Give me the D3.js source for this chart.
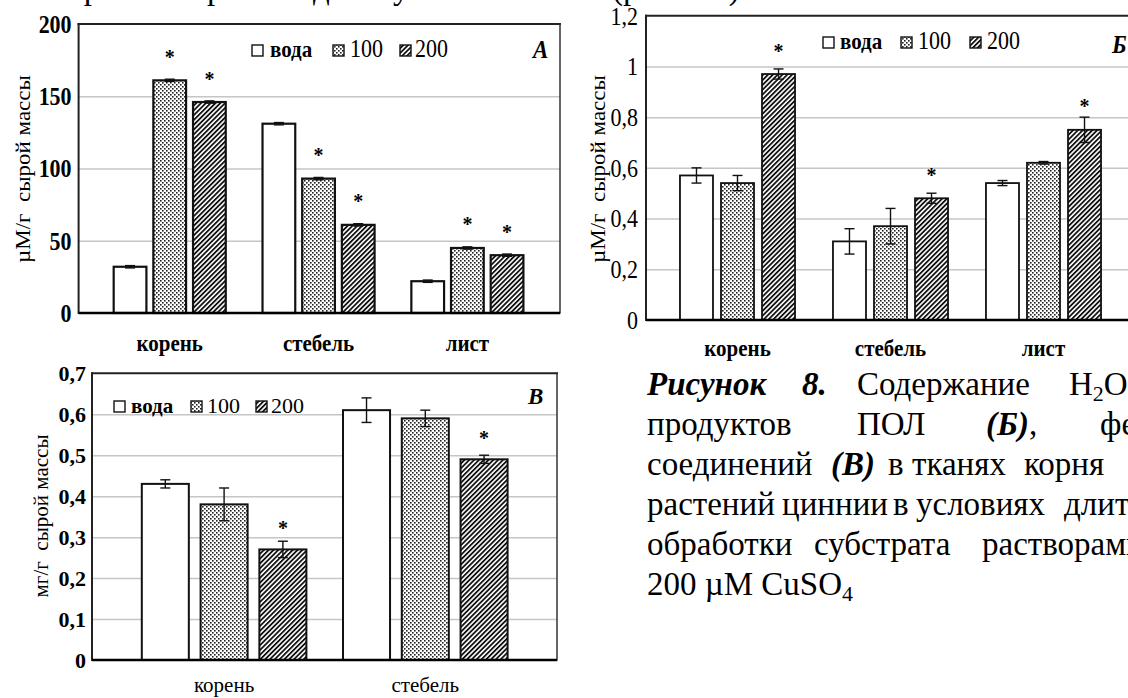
<!DOCTYPE html>
<html>
<head>
<meta charset="utf-8">
<script src="https://cdn.jsdelivr.net/npm/d3@7"></script>
<style>
  body { margin: 0; background: #fff; }
  svg { display: block; }
  svg text { font-family: "Liberation Serif", "Tinos", "DejaVu Serif", serif !important; fill: #000; }
</style>
</head>
<body>
<svg id="fig" width="1128" height="698" font-family="Liberation Serif, DejaVu Serif, serif"></svg>
<script>
// ---- shared categories ----
const organs3 = ["корень", "стебель", "лист"];
const organs2 = ["корень", "стебель"];
const groups = ["вода", "100", "200"];

// ---- A: H2O2, µM/g fresh weight ----
const ticksA = [0, 50, 100, 150, 200];
const h2o2Water = [32, 131, 22];
const h2o2Cu100 = [161, 93, 45];
const h2o2Cu200 = [146, 61, 40];
const h2o2ErrWater = [0.8, 0.8, 0.8];
const h2o2Err100 = [0.8, 0.8, 0.8];
const h2o2Err200 = [0.8, 0.8, 0.8];
const h2o2SigWater = [false, false, false];
const h2o2Sig100 = [true, true, true];
const h2o2Sig200 = [true, true, true];

// ---- Б: lipid peroxidation products, µM/g fresh weight ----
const ticksB = [0, 0.2, 0.4, 0.6, 0.8, 1.0, 1.2];
const polWater = [0.57, 0.31, 0.54];
const polCu100 = [0.54, 0.37, 0.62];
const polCu200 = [0.97, 0.48, 0.75];
const polErrWater = [0.03, 0.05, 0.01];
const polErr100 = [0.03, 0.07, 0.005];
const polErr200 = [0.02, 0.02, 0.05];
const polSigWater = [false, false, false];
const polSig100 = [false, false, false];
const polSig200 = [true, true, true];

// ---- В: phenolic compounds, mg/g fresh weight ----
const ticksC = [0, 0.1, 0.2, 0.3, 0.4, 0.5, 0.6, 0.7];
const phenWater = [0.43, 0.61];
const phenCu100 = [0.38, 0.59];
const phenCu200 = [0.27, 0.49];
const phenErrWater = [0.01, 0.03];
const phenErr100 = [0.04, 0.02];
const phenErr200 = [0.02, 0.01];
const phenSigWater = [false, false];
const phenSig100 = [false, false];
const phenSig200 = [true, true];

const ru = d3.formatLocale({ decimal: ",", thousands: " ", grouping: [3], currency: ["", ""] });
const fmtDec = ru.format(".1~f");
const fmtInt = ru.format("d");

const svg = d3.select("#fig");
const defs = svg.append("defs");

// fine dot screen for the 100 µM series
const dots = defs.append("pattern").attr("id", "dots")
  .attr("patternUnits", "userSpaceOnUse").attr("width", 4).attr("height", 4);
dots.append("rect").attr("width", 4).attr("height", 4).attr("fill", "#fff");
dots.append("rect").attr("x", 0).attr("y", 0).attr("width", 1.6).attr("height", 1.6).attr("fill", "#222");
dots.append("rect").attr("x", 2).attr("y", 2).attr("width", 1.6).attr("height", 1.6).attr("fill", "#222");

// diagonal hatch for the 200 µM series
const hatch = defs.append("pattern").attr("id", "hatch")
  .attr("patternUnits", "userSpaceOnUse").attr("width", 3.4).attr("height", 3.4)
  .attr("patternTransform", "rotate(45)");
hatch.append("rect").attr("width", 3.4).attr("height", 3.4).attr("fill", "#fff");
hatch.append("line").attr("x1", 0.9).attr("y1", 0).attr("x2", 0.9).attr("y2", 3.4)
  .attr("stroke", "#111").attr("stroke-width", 1.8);

const fills = { "вода": "#fff", "100": "url(#dots)", "200": "url(#hatch)" };

function panel(cfg) {
  const g = svg.append("g");
  const sy = cfg.sy;
  const y = d3.scaleLinear().domain([0, cfg.max]).range([cfg.bottom, cfg.top]);
  const x0 = d3.scaleBand().domain(cfg.cats).range(cfg.xr)
    .paddingInner(cfg.pi).paddingOuter(cfg.pi / 2);
  const x1 = d3.scaleBand().domain(groups).range([0, x0.bandwidth()])
    .paddingInner(cfg.pi1).paddingOuter(0);

  // horizontal gridlines
  g.append("g").attr("transform", `translate(${cfg.left},0)`)
    .call(d3.axisLeft(y).tickValues(cfg.ticks.filter(t => t > 0 && t < cfg.max))
      .tickSize(-(cfg.right - cfg.left)).tickFormat(""))
    .call(a => a.select(".domain").remove())
    .selectAll("line").attr("stroke", "#c6c6c6").attr("stroke-width", 1.5);

  // tick labels
  const ax = g.append("g").attr("transform", `translate(${cfg.left},0)`)
    .call(d3.axisLeft(y).tickValues(cfg.ticks).tickSize(0).tickPadding(cfg.tickPad).tickFormat(cfg.fmt))
    .call(a => a.select(".domain").remove())
    .attr("font-family", null);
  ax.selectAll(".tick text")
    .attr("font-size", cfg.tickSize).attr("font-weight", cfg.tickWeight)
    .attr("dy", null).attr("y", 0)
    .attr("transform", `translate(0,${0.34 * cfg.tickSize * sy}) scale(1,${sy})`);

  // frame
  const frame = g.append("g").attr("stroke-linecap", "square");
  frame.append("line").attr("x1", cfg.left).attr("x2", cfg.right).attr("y1", cfg.top).attr("y2", cfg.top)
    .attr("stroke", "#222").attr("stroke-width", 2);
  frame.append("line").attr("x1", cfg.right).attr("x2", cfg.right).attr("y1", cfg.top).attr("y2", cfg.bottom)
    .attr("stroke", "#333").attr("stroke-width", 1.5);
  frame.append("line").attr("x1", cfg.left).attr("x2", cfg.left).attr("y1", cfg.top).attr("y2", cfg.bottom)
    .attr("stroke", "#222").attr("stroke-width", 2);

  // bars, error bars and significance marks
  const series = [
    { key: "вода", vals: cfg.water, errs: cfg.errWater, sig: cfg.sigWater },
    { key: "100", vals: cfg.cu100, errs: cfg.err100, sig: cfg.sig100 },
    { key: "200", vals: cfg.cu200, errs: cfg.err200, sig: cfg.sig200 }
  ];
  series.forEach(s => {
    const rows = cfg.cats.map((c, i) => ({ cat: c, v: s.vals[i], e: s.errs[i], sig: s.sig[i] }));
    const sg = g.append("g");
    sg.selectAll("rect").data(rows).join("rect")
      .attr("x", d => x0(d.cat) + x1(s.key))
      .attr("y", d => y(d.v))
      .attr("width", x1.bandwidth())
      .attr("height", d => y(0) - y(d.v))
      .attr("fill", fills[s.key])
      .attr("stroke", "#111").attr("stroke-width", cfg.barStroke);
    const eg = sg.selectAll("g.err").data(rows).join("g").attr("class", "err")
      .attr("stroke", "#111").attr("stroke-width", 1.4);
    const cx = d => x0(d.cat) + x1(s.key) + x1.bandwidth() / 2;
    eg.append("line").attr("x1", cx).attr("x2", cx)
      .attr("y1", d => y(d.v - d.e)).attr("y2", d => y(d.v + d.e));
    eg.append("line").attr("x1", d => cx(d) - 5).attr("x2", d => cx(d) + 5)
      .attr("y1", d => y(d.v + d.e)).attr("y2", d => y(d.v + d.e));
    eg.append("line").attr("x1", d => cx(d) - 5).attr("x2", d => cx(d) + 5)
      .attr("y1", d => y(d.v - d.e)).attr("y2", d => y(d.v - d.e));
    sg.selectAll("text.star").data(rows.filter(d => d.sig)).join("text").attr("class", "star")
      .attr("text-anchor", "middle").attr("font-size", 20).attr("font-weight", "bold")
      .attr("transform", d => `translate(${cx(d)},${y(d.v) - cfg.starGap + 9.5})`)
      .text("*");
  });

  // baseline
  g.append("line").attr("x1", cfg.left).attr("x2", cfg.right).attr("y1", cfg.bottom).attr("y2", cfg.bottom)
    .attr("stroke", "#000").attr("stroke-width", 2.5);

  // category labels
  g.selectAll("text.cat").data(cfg.cats).join("text").attr("class", "cat")
    .attr("text-anchor", "middle").attr("font-size", cfg.catSize).attr("font-weight", cfg.catWeight)
    .attr("transform", d => `translate(${x0(d) + x0.bandwidth() / 2},${cfg.catY}) scale(1,${sy})`)
    .text(d => d);

  // legend
  const lg = g.append("g");
  groups.forEach((k, i) => {
    const [sx, tx] = cfg.legendX[i];
    lg.append("rect").attr("x", sx).attr("y", cfg.legendY - 12).attr("width", 11).attr("height", 11)
      .attr("fill", fills[k]).attr("stroke", "#111").attr("stroke-width", 1.4);
    lg.append("text")
      .attr("transform", `translate(${tx},${cfg.legendY}) scale(1,${sy})`)
      .attr("font-size", k === "вода" ? cfg.legendSize - 1 : cfg.legendSize)
      .attr("font-weight", k === "вода" ? "bold" : "normal")
      .text(k);
  });

  // panel letter
  g.append("text").attr("transform", `translate(${cfg.letterX},${cfg.letterY}) scale(1,${sy})`)
    .attr("font-size", 23).attr("font-weight", "bold").attr("font-style", "italic")
    .text(cfg.letter);

  // y-axis title
  g.append("text")
    .attr("transform", `translate(${cfg.titleX},${cfg.titleY}) scale(1,${sy}) rotate(-90)`)
    .attr("text-anchor", "middle").attr("font-size", cfg.titleSize)
    .attr("xml:space", "preserve")
    .text(cfg.title);
}

panel({
  cats: organs3, ticks: ticksA, max: 200, fmt: fmtInt,
  water: h2o2Water, cu100: h2o2Cu100, cu200: h2o2Cu200,
  errWater: h2o2ErrWater, err100: h2o2Err100, err200: h2o2Err200,
  sigWater: h2o2SigWater, sig100: h2o2Sig100, sig200: h2o2Sig200,
  left: 78.6, right: 560, top: 24, bottom: 313,
  xr: [95.3, 541.8], pi: 0.247, pi1: 0.175, barStroke: 2.2,
  sy: 1.12, tickSize: 22, tickWeight: "bold", tickPad: 7,
  catSize: 21, catWeight: "bold", catY: 350.5,
  legendX: [[252, 270], [333, 350], [400, 415]], legendY: 57, legendSize: 22,
  letter: "A", letterX: 533, letterY: 58,
  title: "µM/г  сырой массы", titleX: 30, titleY: 169, titleSize: 20.5,
  starGap: 26
});

panel({
  cats: organs3, ticks: ticksB, max: 1.2, fmt: fmtDec,
  water: polWater, cu100: polCu100, cu200: polCu200,
  errWater: polErrWater, err100: polErr100, err200: polErr200,
  sigWater: polSigWater, sig100: polSig100, sig200: polSig200,
  left: 646, right: 1140, top: 15.7, bottom: 320,
  xr: [661, 1120], pi: 0.248, pi1: 0.195, barStroke: 1.8,
  sy: 1.12, tickSize: 22, tickWeight: "normal", tickPad: 8,
  catSize: 21, catWeight: "bold", catY: 356,
  legendX: [[823, 840], [901, 918], [970, 987]], legendY: 49, legendSize: 22,
  letter: "Б", letterX: 1112, letterY: 53,
  title: "µМ/г  сырой массы", titleX: 605, titleY: 169, titleSize: 20.5,
  starGap: 26
});

panel({
  cats: organs2, ticks: ticksC, max: 0.7, fmt: fmtDec,
  water: phenWater, cu100: phenCu100, cu200: phenCu200,
  errWater: phenErrWater, err100: phenErr100, err200: phenErr200,
  sigWater: phenSigWater, sig100: phenSig100, sig200: phenSig200,
  left: 92, right: 557, top: 373.3, bottom: 660,
  xr: [123.5, 525.9], pi: 0.182, pi1: 0.2, barStroke: 2,
  sy: 1, tickSize: 22, tickWeight: "bold", tickPad: 6,
  catSize: 21, catWeight: "normal", catY: 692,
  legendX: [[114, 131], [191, 207], [256, 271]], legendY: 413, legendSize: 22,
  letter: "B", letterX: 528, letterY: 404,
  title: "мг/г  сырой массы", titleX: 48, titleY: 516, titleSize: 21,
  starGap: 23.5
});

// ---- running text around the figure ----
const body = svg.append("g").attr("font-size", 33);

// tail of the preceding paragraph line
const prev = body.append("text").attr("y", -1);
[["при", 66], ["этом", 128], ["разной", 207], ["дозе", 313], ["у", 393], ["них", 420], ["выше", 488], ["(рис. 8А)", 612], ["и", 790], ["не", 830]]
  .forEach(([w, x]) => prev.append("tspan").attr("x", x).text(w));

// figure caption (justified column, clipped at the page edge)
const captionLines = [
  { y: 395, words: [["Рисунок", 647, "bi"], ["8.", 802, "bi"], ["Содержание", 857, ""], ["H", 1069, "formula"]] },
  { y: 435, words: [["продуктов", 647, ""], ["ПОЛ", 857, ""], ["(Б)", 986, "bi"], [",", null, ""], ["фенольных", 1100, ""]] },
  { y: 475, words: [["соединений", 647, ""], ["(В)", 831, "bi"], ["в", 888, ""], ["тканях", 912, ""], ["корня", 1024, ""], ["и", 1132, ""]] },
  { y: 515, words: [["растений", 647, ""], ["циннии", 782, ""], ["в", 893, ""], ["условиях", 916, ""], ["длительной", 1064, ""]] },
  { y: 555, words: [["обработки", 647, ""], ["субстрата", 814, ""], ["растворами", 982, ""]] },
  { y: 595, words: [["200 µM CuSO", 647, ""], ["4", null, "sub"]] }
];
captionLines.forEach(line => {
  const t = body.append("text").attr("y", line.y);
  line.words.forEach(([w, x, st]) => {
    if (st === "sub") {
      t.append("tspan").attr("font-size", 22).attr("dy", 6).text(w);
      return;
    }
    const ts = t.append("tspan").text(w);
    if (x !== null) ts.attr("x", x);
    if (st === "bi") ts.attr("font-weight", "bold").attr("font-style", "italic");
    if (st === "formula") {
      t.append("tspan").attr("font-size", 22).attr("dy", 6).text("2");
      t.append("tspan").attr("dy", -6).text("O");
      t.append("tspan").attr("font-size", 22).attr("dy", 6).text("2");
      t.append("tspan").attr("dy", -6).text(" (А),");
    }
  });
});
</script>
</body>
</html>
